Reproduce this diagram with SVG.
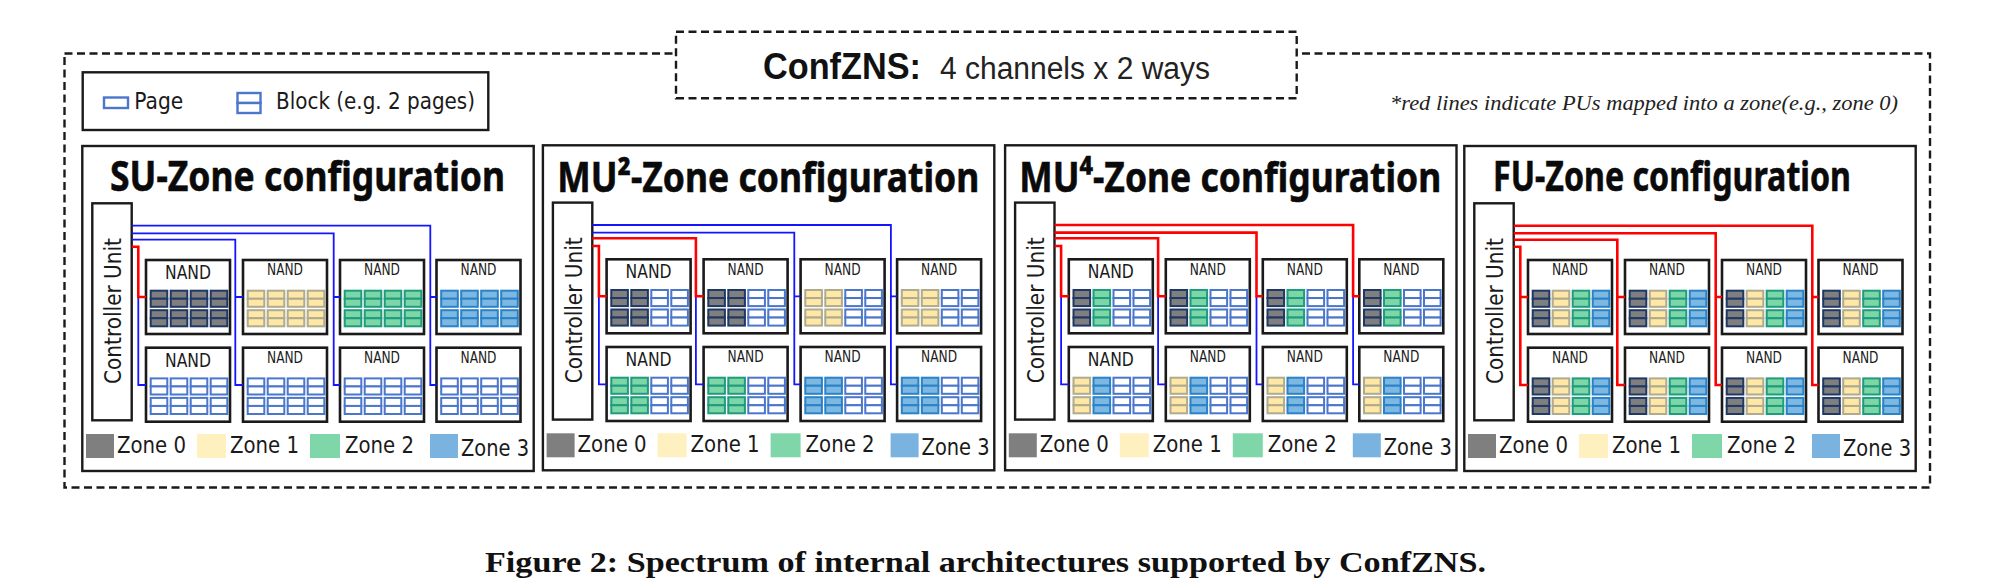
<svg xmlns="http://www.w3.org/2000/svg" width="1993" height="582" viewBox="0 0 1993 582">
<style>
.bg{fill:#fff}
.dash{fill:none;stroke:#1a1a1a;stroke-width:2.4;stroke-dasharray:8 4.5}
.box{fill:#fff;stroke:#1a1a1a;stroke-width:2.4}
.chip{fill:#fff;stroke:#1a1a1a;stroke-width:2.6}
.cu{fill:#fff;stroke:#1a1a1a;stroke-width:2.4}
.bk{stroke-width:2}
.z0{fill:#7f7f7f;stroke:#203864}
.z1{fill:#ffe8a6;stroke:#aeab90}
.z2{fill:#7dd6a6;stroke:#1f9c80}
.z3{fill:#7cb8e2;stroke:#2a82c8}
.e{fill:#fff;stroke:#4a76cc}
.title{font:bold 42px "Noto Sans","DejaVu Sans",sans-serif;fill:#0a0a0a;stroke:#0a0a0a;stroke-width:.6}
.nb{font:19.5px "DejaVu Sans",sans-serif;fill:#1a1a1a;text-anchor:middle}
.ns{font:15.5px "DejaVu Sans",sans-serif;fill:#1a1a1a;text-anchor:middle}
.t{font:23px "DejaVu Sans",sans-serif;fill:#1a1a1a}
.s0{fill:#7f7f7f}.s1{fill:#fff0c0}.s2{fill:#7fd6a8}.s3{fill:#7ab2e0}
.blue{fill:none;stroke:#1414ff;stroke-width:1.8}
.red{fill:none;stroke:#f00;stroke-width:2.6}
</style>
<defs>
<g id="blk" class="bk"><rect x=".7" y=".7" width="16.6" height="8.05"/><rect x=".7" y="8.75" width="16.6" height="8.05"/></g>
<g id="col"><use href="#blk"/><use href="#blk" y="19.5"/></g>
<g id="L2"><use href="#col"/><use href="#col" x="20"/></g>
<g id="R2"><use href="#col" x="40"/><use href="#col" x="60"/></g>
<g id="g-aaaa" transform="translate(4,30)" class="z0"><use href="#L2"/><use href="#R2"/></g>
<g id="g-bbbb" transform="translate(4,30)" class="z1"><use href="#L2"/><use href="#R2"/></g>
<g id="g-cccc" transform="translate(4,30)" class="z2"><use href="#L2"/><use href="#R2"/></g>
<g id="g-dddd" transform="translate(4,30)" class="z3"><use href="#L2"/><use href="#R2"/></g>
<g id="g-eeee" transform="translate(4,30)" class="e"><use href="#L2"/><use href="#R2"/></g>
<g id="g-aaee" transform="translate(4,30)"><use href="#L2" class="z0"/><use href="#R2" class="e"/></g>
<g id="g-bbee" transform="translate(4,30)"><use href="#L2" class="z1"/><use href="#R2" class="e"/></g>
<g id="g-ccee" transform="translate(4,30)"><use href="#L2" class="z2"/><use href="#R2" class="e"/></g>
<g id="g-ddee" transform="translate(4,30)"><use href="#L2" class="z3"/><use href="#R2" class="e"/></g>
<g id="g-acee" transform="translate(4,30)"><use href="#col" class="z0"/><use href="#col" x="20" class="z2"/><use href="#R2" class="e"/></g>
<g id="g-bdee" transform="translate(4,30)"><use href="#col" class="z1"/><use href="#col" x="20" class="z3"/><use href="#R2" class="e"/></g>
<g id="g-abcd" transform="translate(4,30)"><use href="#col" class="z0"/><use href="#col" x="20" class="z1"/><use href="#col" x="40" class="z2"/><use href="#col" x="60" class="z3"/></g>
<rect id="cf" class="chip" width="84" height="74"/>
<rect id="pf" class="box" x="82.3" y="146" width="451.4" height="325"/>
<rect id="cuf" class="cu" x="92.3" y="203.3" width="39.4" height="217"/>
<g id="sw"><rect class="s0" x="86" y="434" width="28" height="24"/><rect class="s1" x="197" y="434" width="29" height="24"/><rect class="s2" x="310" y="434" width="30" height="24"/><rect class="s3" x="430" y="434" width="28" height="24"/></g>
</defs>
<rect class="bg" width="1993" height="582"/>

<g id="frame">
<rect class="dash" x="64.5" y="53.5" width="1865.5" height="434"/>
<rect id="title-box" class="bg" x="676" y="31.7" width="620.7" height="66.6"/>
<rect class="dash" x="676" y="31.7" width="620.7" height="66.6"/>
</g>
<g id="title">
<text x="763" y="79.3" font-family="Liberation Sans,sans-serif" font-weight="bold" font-size="37" fill="#111" textLength="158" lengthAdjust="spacingAndGlyphs">ConfZNS:</text>
<text x="940" y="79.3" font-family="Liberation Sans,sans-serif" font-size="31" fill="#222" textLength="270" lengthAdjust="spacingAndGlyphs">4 channels x 2 ways</text>
</g>
<g id="legend">
<rect class="box" x="82.7" y="72.3" width="405.6" height="57.7"/>
<rect x="104" y="97.5" width="24" height="10.5" fill="#fff" stroke="#4a76cc" stroke-width="2.4"/>
<text class="t" x="134.3" y="109" textLength="49" lengthAdjust="spacingAndGlyphs">Page</text>
<rect x="237.5" y="93" width="23" height="10" fill="#fff" stroke="#4a76cc" stroke-width="2.4"/>
<rect x="237.5" y="103" width="23" height="10" fill="#fff" stroke="#4a76cc" stroke-width="2.4"/>
<text class="t" x="276" y="109" textLength="199" lengthAdjust="spacingAndGlyphs">Block (e.g. 2 pages)</text>
</g>
<text id="note" x="1390" y="109.5" font-family="Liberation Serif,serif" font-style="italic" font-size="22" fill="#222" textLength="508" lengthAdjust="spacingAndGlyphs">*red lines indicate PUs mapped into a zone(e.g., zone 0)</text>

<g id="su-zone">
<use href="#pf"/>
<text class="title" x="110" y="191" textLength="395" lengthAdjust="spacingAndGlyphs">SU-Zone configuration</text>
<g id="su-cu"><use href="#cuf"/><text class="t" transform="translate(121,384) rotate(-90)" textLength="146" lengthAdjust="spacingAndGlyphs">Controller Unit</text></g>
<g id="su-n1" transform="translate(146,260)"><use href="#cf"/><text class="nb" x="42" y="19" textLength="46" lengthAdjust="spacingAndGlyphs">NAND</text><use href="#g-aaaa"/></g>
<g id="su-n2" transform="translate(243,260)"><use href="#cf"/><text class="ns" x="42" y="15.3" textLength="36" lengthAdjust="spacingAndGlyphs">NAND</text><use href="#g-bbbb"/></g>
<g id="su-n3" transform="translate(340,260)"><use href="#cf"/><text class="ns" x="42" y="15.3" textLength="36" lengthAdjust="spacingAndGlyphs">NAND</text><use href="#g-cccc"/></g>
<g id="su-n4" transform="translate(436.5,260)"><use href="#cf"/><text class="ns" x="42" y="15.3" textLength="36" lengthAdjust="spacingAndGlyphs">NAND</text><use href="#g-dddd"/></g>
<g id="su-n5" transform="translate(146,347.7)"><use href="#cf"/><text class="nb" x="42" y="19" textLength="46" lengthAdjust="spacingAndGlyphs">NAND</text><use href="#g-eeee"/></g>
<g id="su-n6" transform="translate(243,347.7)"><use href="#cf"/><text class="ns" x="42" y="15.3" textLength="36" lengthAdjust="spacingAndGlyphs">NAND</text><use href="#g-eeee"/></g>
<g id="su-n7" transform="translate(340,347.7)"><use href="#cf"/><text class="ns" x="42" y="15.3" textLength="36" lengthAdjust="spacingAndGlyphs">NAND</text><use href="#g-eeee"/></g>
<g id="su-n8" transform="translate(436.5,347.7)"><use href="#cf"/><text class="ns" x="42" y="15.3" textLength="36" lengthAdjust="spacingAndGlyphs">NAND</text><use href="#g-eeee"/></g>
<g id="su-legend"><use href="#sw"/><text class="t" x="117" y="453" textLength="69" lengthAdjust="spacingAndGlyphs">Zone 0</text><text class="t" x="230" y="453" textLength="69" lengthAdjust="spacingAndGlyphs">Zone 1</text><text class="t" x="345" y="453" textLength="69" lengthAdjust="spacingAndGlyphs">Zone 2</text><text class="t" x="461" y="456" textLength="68" lengthAdjust="spacingAndGlyphs">Zone 3</text></g>
</g>

<g id="mu2-zone" transform="translate(460.6,-0.7)">
<use href="#pf"/>
<text class="title" x="96.7" y="193" textLength="422" lengthAdjust="spacingAndGlyphs">MU²-Zone configuration</text>
<g id="mu2-cu"><use href="#cuf"/><text class="t" transform="translate(121,384) rotate(-90)" textLength="146" lengthAdjust="spacingAndGlyphs">Controller Unit</text></g>
<g id="mu2-n1" transform="translate(146,260)"><use href="#cf"/><text class="nb" x="42" y="19" textLength="46" lengthAdjust="spacingAndGlyphs">NAND</text><use href="#g-aaee"/></g>
<g id="mu2-n2" transform="translate(243,260)"><use href="#cf"/><text class="ns" x="42" y="15.3" textLength="36" lengthAdjust="spacingAndGlyphs">NAND</text><use href="#g-aaee"/></g>
<g id="mu2-n3" transform="translate(340,260)"><use href="#cf"/><text class="ns" x="42" y="15.3" textLength="36" lengthAdjust="spacingAndGlyphs">NAND</text><use href="#g-bbee"/></g>
<g id="mu2-n4" transform="translate(436.5,260)"><use href="#cf"/><text class="ns" x="42" y="15.3" textLength="36" lengthAdjust="spacingAndGlyphs">NAND</text><use href="#g-bbee"/></g>
<g id="mu2-n5" transform="translate(146,347.7)"><use href="#cf"/><text class="nb" x="42" y="19" textLength="46" lengthAdjust="spacingAndGlyphs">NAND</text><use href="#g-ccee"/></g>
<g id="mu2-n6" transform="translate(243,347.7)"><use href="#cf"/><text class="ns" x="42" y="15.3" textLength="36" lengthAdjust="spacingAndGlyphs">NAND</text><use href="#g-ccee"/></g>
<g id="mu2-n7" transform="translate(340,347.7)"><use href="#cf"/><text class="ns" x="42" y="15.3" textLength="36" lengthAdjust="spacingAndGlyphs">NAND</text><use href="#g-ddee"/></g>
<g id="mu2-n8" transform="translate(436.5,347.7)"><use href="#cf"/><text class="ns" x="42" y="15.3" textLength="36" lengthAdjust="spacingAndGlyphs">NAND</text><use href="#g-ddee"/></g>
<g id="mu2-legend"><use href="#sw"/><text class="t" x="117" y="453" textLength="69" lengthAdjust="spacingAndGlyphs">Zone 0</text><text class="t" x="230" y="453" textLength="69" lengthAdjust="spacingAndGlyphs">Zone 1</text><text class="t" x="345" y="453" textLength="69" lengthAdjust="spacingAndGlyphs">Zone 2</text><text class="t" x="461" y="456" textLength="68" lengthAdjust="spacingAndGlyphs">Zone 3</text></g>
</g>

<g id="mu4-zone" transform="translate(922.8,-0.7)">
<use href="#pf"/>
<text class="title" x="96.5" y="193" textLength="422" lengthAdjust="spacingAndGlyphs">MU⁴-Zone configuration</text>
<g id="mu4-cu"><use href="#cuf"/><text class="t" transform="translate(121,384) rotate(-90)" textLength="146" lengthAdjust="spacingAndGlyphs">Controller Unit</text></g>
<g id="mu4-n1" transform="translate(146,260)"><use href="#cf"/><text class="nb" x="42" y="19" textLength="46" lengthAdjust="spacingAndGlyphs">NAND</text><use href="#g-acee"/></g>
<g id="mu4-n2" transform="translate(243,260)"><use href="#cf"/><text class="ns" x="42" y="15.3" textLength="36" lengthAdjust="spacingAndGlyphs">NAND</text><use href="#g-acee"/></g>
<g id="mu4-n3" transform="translate(340,260)"><use href="#cf"/><text class="ns" x="42" y="15.3" textLength="36" lengthAdjust="spacingAndGlyphs">NAND</text><use href="#g-acee"/></g>
<g id="mu4-n4" transform="translate(436.5,260)"><use href="#cf"/><text class="ns" x="42" y="15.3" textLength="36" lengthAdjust="spacingAndGlyphs">NAND</text><use href="#g-acee"/></g>
<g id="mu4-n5" transform="translate(146,347.7)"><use href="#cf"/><text class="nb" x="42" y="19" textLength="46" lengthAdjust="spacingAndGlyphs">NAND</text><use href="#g-bdee"/></g>
<g id="mu4-n6" transform="translate(243,347.7)"><use href="#cf"/><text class="ns" x="42" y="15.3" textLength="36" lengthAdjust="spacingAndGlyphs">NAND</text><use href="#g-bdee"/></g>
<g id="mu4-n7" transform="translate(340,347.7)"><use href="#cf"/><text class="ns" x="42" y="15.3" textLength="36" lengthAdjust="spacingAndGlyphs">NAND</text><use href="#g-bdee"/></g>
<g id="mu4-n8" transform="translate(436.5,347.7)"><use href="#cf"/><text class="ns" x="42" y="15.3" textLength="36" lengthAdjust="spacingAndGlyphs">NAND</text><use href="#g-bdee"/></g>
<g id="mu4-legend"><use href="#sw"/><text class="t" x="117" y="453" textLength="69" lengthAdjust="spacingAndGlyphs">Zone 0</text><text class="t" x="230" y="453" textLength="69" lengthAdjust="spacingAndGlyphs">Zone 1</text><text class="t" x="345" y="453" textLength="69" lengthAdjust="spacingAndGlyphs">Zone 2</text><text class="t" x="461" y="456" textLength="68" lengthAdjust="spacingAndGlyphs">Zone 3</text></g>
</g>

<g id="fu-zone" transform="translate(1382,0)">
<use href="#pf"/>
<text class="title" x="111" y="191" textLength="358" lengthAdjust="spacingAndGlyphs">FU-Zone configuration</text>
<g id="fu-cu"><use href="#cuf"/><text class="t" transform="translate(121,384) rotate(-90)" textLength="146" lengthAdjust="spacingAndGlyphs">Controller Unit</text></g>
<g id="fu-n1" transform="translate(146,260)"><use href="#cf"/><text class="ns" x="42" y="15.3" textLength="36" lengthAdjust="spacingAndGlyphs">NAND</text><use href="#g-abcd"/></g>
<g id="fu-n2" transform="translate(243,260)"><use href="#cf"/><text class="ns" x="42" y="15.3" textLength="36" lengthAdjust="spacingAndGlyphs">NAND</text><use href="#g-abcd"/></g>
<g id="fu-n3" transform="translate(340,260)"><use href="#cf"/><text class="ns" x="42" y="15.3" textLength="36" lengthAdjust="spacingAndGlyphs">NAND</text><use href="#g-abcd"/></g>
<g id="fu-n4" transform="translate(436.5,260)"><use href="#cf"/><text class="ns" x="42" y="15.3" textLength="36" lengthAdjust="spacingAndGlyphs">NAND</text><use href="#g-abcd"/></g>
<g id="fu-n5" transform="translate(146,347.7)"><use href="#cf"/><text class="ns" x="42" y="15.3" textLength="36" lengthAdjust="spacingAndGlyphs">NAND</text><use href="#g-abcd"/></g>
<g id="fu-n6" transform="translate(243,347.7)"><use href="#cf"/><text class="ns" x="42" y="15.3" textLength="36" lengthAdjust="spacingAndGlyphs">NAND</text><use href="#g-abcd"/></g>
<g id="fu-n7" transform="translate(340,347.7)"><use href="#cf"/><text class="ns" x="42" y="15.3" textLength="36" lengthAdjust="spacingAndGlyphs">NAND</text><use href="#g-abcd"/></g>
<g id="fu-n8" transform="translate(436.5,347.7)"><use href="#cf"/><text class="ns" x="42" y="15.3" textLength="36" lengthAdjust="spacingAndGlyphs">NAND</text><use href="#g-abcd"/></g>
<g id="fu-legend"><use href="#sw"/><text class="t" x="117" y="453" textLength="69" lengthAdjust="spacingAndGlyphs">Zone 0</text><text class="t" x="230" y="453" textLength="69" lengthAdjust="spacingAndGlyphs">Zone 1</text><text class="t" x="345" y="453" textLength="69" lengthAdjust="spacingAndGlyphs">Zone 2</text><text class="t" x="461" y="456" textLength="68" lengthAdjust="spacingAndGlyphs">Zone 3</text></g>
</g>

<g id="connectors">
<g id="su-wires">
<path class="blue" d="M138.3 297V385H146M131.7 225.7H430.3V385H436.5M430.3 297H436.5M131.7 233.3H333.7V385H340M333.7 297H340M131.7 239.7H235.3V385H243M235.3 297H243"/>
<path class="red" d="M131.7 246.7H138.3V297H146"/>
</g>
<g id="mu2-wires" transform="translate(460.6,-0.7)">
<path class="blue" d="M138.3 297V385H146M235.3 297V385H243M131.7 225.7H430.3V385H436.5M430.3 297H436.5M131.7 233.3H333.7V385H340M333.7 297H340"/>
<path class="red" d="M131.7 246.7H138.3V297H146M131.7 239H235.3V297H243"/>
</g>
<g id="mu4-wires" transform="translate(922.8,-0.7)">
<path class="blue" d="M138.3 297V385H146M235.3 297V385H243M333.7 297V385H340M430.3 297V385H436.5"/>
<path class="red" d="M131.7 246.7H138.3V297H146M131.7 239H235.3V297H243M131.7 233.3H333.7V297H340M131.7 225.7H430.3V297H436.5"/>
</g>
<g id="fu-wires" transform="translate(1382,0)">
<path class="red" d="M131.7 246.7H138.3V385H146M138.3 297H146M131.7 239.7H235.3V385H243M235.3 297H243M131.7 233.3H333.7V385H340M333.7 297H340M131.7 225.7H430.3V385H436.5M430.3 297H436.5"/>
</g>
</g>

<text id="caption" x="485" y="572" font-family="Liberation Serif,serif" font-weight="bold" font-size="29" fill="#111" textLength="1001" lengthAdjust="spacingAndGlyphs">Figure 2: Spectrum of internal architectures supported by ConfZNS.</text>
</svg>
